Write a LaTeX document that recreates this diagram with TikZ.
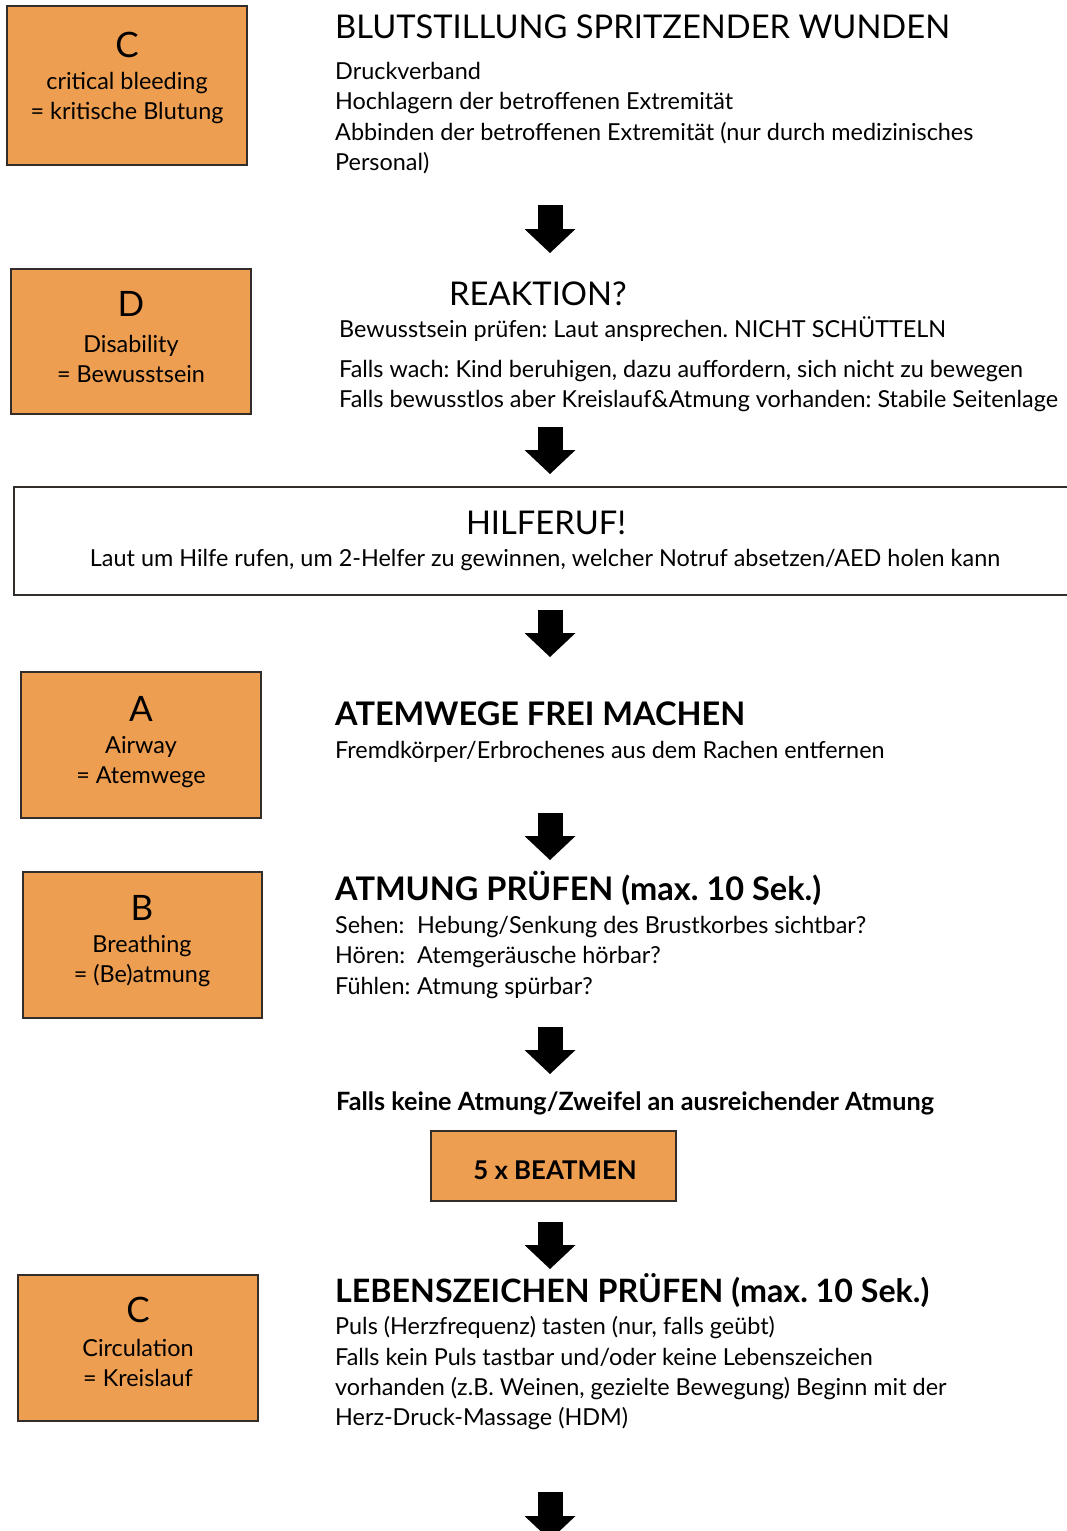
\documentclass[tikz,border=0pt]{standalone}
\usepackage{fontspec}
\setmainfont{Lato}
\usetikzlibrary{arrows.meta}
\definecolor{boxor}{RGB}{238,158,80}
\definecolor{boxline}{RGB}{50,45,40}
\tikzset{
  obox/.style={draw=boxline, line width=1.3pt, fill=boxor, inner sep=0pt},
  wbox/.style={draw=boxline, line width=1.3pt, fill=white, inner sep=0pt},
  letter/.style={anchor=base, inner sep=0pt, font=\fontsize{35}{40}\selectfont},
  boxtxt/.style={anchor=base, inner sep=0pt, font=\fontsize{23.4}{28}\selectfont},
  body/.style={anchor=base west, inner sep=0pt, font=\fontsize{23.4}{28}\selectfont},
  bodyb/.style={anchor=base west, inner sep=0pt, font=\fontsize{25.2}{30}\selectfont\bfseries},
  bodyc/.style={anchor=base, inner sep=0pt, font=\fontsize{23.4}{28}\selectfont},
  head/.style={anchor=base west, inner sep=0pt, font=\fontsize{32.7}{38}\selectfont},
  headb/.style={anchor=base west, inner sep=0pt, font=\fontsize{32.5}{38}\selectfont\bfseries},
  bigarrow/.style={line width=25pt, -{Triangle[length=24pt,width=51pt,line width=0pt]}}
}
\begin{document}
\frenchspacing
\begin{tikzpicture}[x=1pt,y=-1pt]
\useasboundingbox (0,0) rectangle (1067,1531);
\fill[white] (0,0) rectangle (1067,1531);

% ---- boxes left ----
\node[obox, minimum width=240pt, minimum height=159pt] (c1) at (127,85.5) {};
\node[letter] (c1l) at (127,57) {C};
\node[boxtxt] (c1a) at (127,89) {critical bleeding};
\node[boxtxt] (c1b) at (127,119) {= kritische Blutung};

\node[obox, minimum width=240pt, minimum height=145pt] (d) at (131,341.5) {};
\node[letter] (dl) at (131,316) {D};
\node[boxtxt] (da) at (131,352) {Disability};
\node[boxtxt] (db) at (131,382) {= Bewusstsein};

\node[obox, minimum width=240pt, minimum height=146pt] (a) at (141,745) {};
\node[letter] (al) at (141,721) {A};
\node[boxtxt] (aa) at (141,753) {Airway};
\node[boxtxt] (ab) at (141,783) {= Atemwege};

\node[obox, minimum width=239pt, minimum height=146pt] (b) at (142.5,945) {};
\node[letter] (bl) at (142,920) {B};
\node[boxtxt] (ba) at (142,952) {Breathing};
\node[boxtxt] (bb) at (142,982) {= (Be)atmung};

\node[obox, minimum width=240pt, minimum height=146pt] (c2) at (138,1348) {};
\node[letter] (c2l) at (138,1322) {C};
\node[boxtxt] (c2a) at (138,1356) {Circulation};
\node[boxtxt] (c2b) at (138,1386) {= Kreislauf};

% ---- section 1 ----
\node[head] (h1) at (335,38) {BLUTSTILLUNG SPRITZENDER WUNDEN};
\node[body] (t1a) at (335,79) {Druckverband};
\node[body] (t1b) at (335,109) {Hochlagern der betroffenen Extremität};
\node[body] (t1c) at (335,140) {Abbinden der betroffenen Extremität (nur durch medizinisches};
\node[body] (t1d) at (335,170) {Personal)};

% ---- section 2 ----
\node[head] (h2) at (449,305) {REAKTION?};
\node[body] (t2a) at (339,337) {Bewusstsein prüfen: Laut ansprechen. NICHT SCHÜTTELN};
\node[body] (t2b) at (339,377) {Falls wach: Kind beruhigen, dazu auffordern, sich nicht zu bewegen};
\node[body] (t2c) at (339,407) {Falls bewusstlos aber Kreislauf\&Atmung vorhanden: Stabile Seitenlage};

% ---- Hilferuf ----
\node[wbox, minimum width=1066pt, minimum height=108pt] (hilf) at (547,541) {};
\node[anchor=base, inner sep=0pt, font=\fontsize{32.7}{38}\selectfont] (h3) at (546,534) {HILFERUF!};
\node[bodyc] (t3) at (545,566) {Laut um Hilfe rufen, um 2-Helfer zu gewinnen, welcher Notruf absetzen/AED holen kann};

% ---- Atemwege ----
\node[headb] (h4) at (335,725) {ATEMWEGE FREI MACHEN};
\node[body] (t4) at (335,758) {Fremdkörper/Erbrochenes aus dem Rachen entfernen};

% ---- Atmung ----
\node[headb] (h5) at (335,900) {ATMUNG PRÜFEN (max. 10 Sek.)};
\node[body] (t5a) at (335,933) {\makebox[82pt][l]{Sehen:}Hebung/Senkung des Brustkorbes sichtbar?};
\node[body] (t5b) at (335,963) {\makebox[82pt][l]{Hören:}Atemgeräusche hörbar?};
\node[body] (t5c) at (335,994) {\makebox[82pt][l]{Fühlen:}Atmung spürbar?};

\node[bodyb] (t6) at (336,1110) {Falls keine Atmung/Zweifel an ausreichender Atmung};
\node[obox, minimum width=245pt, minimum height=70pt] (beat) at (553.5,1166) {};
\node[anchor=base, inner sep=0pt, font=\fontsize{25.8}{30}\selectfont\bfseries] (beatt) at (555,1179) {5 x BEATMEN};

% ---- Lebenszeichen ----
\node[headb, font=\fontsize{32.2}{38}\selectfont\bfseries] (h7) at (335,1302) {LEBENSZEICHEN PRÜFEN (max. 10 Sek.)};
\node[body] (t7a) at (335,1334) {Puls (Herzfrequenz) tasten (nur, falls geübt)};
\node[body] (t7b) at (335,1365) {Falls kein Puls tastbar und/oder keine Lebenszeichen};
\node[body] (t7c) at (335,1395) {vorhanden (z.B. Weinen, gezielte Bewegung) Beginn mit der};
\node[body] (t7d) at (335,1425) {Herz-Druck-Massage (HDM)};

% ---- arrows ----
\coordinate (a1s) at (550,205);  \coordinate (a1e) at (550,253);
\coordinate (a2s) at (550,427);  \coordinate (a2e) at (550,474);
\coordinate (a3s) at (550,610);  \coordinate (a3e) at (550,657);
\coordinate (a4s) at (550,813);  \coordinate (a4e) at (550,860);
\coordinate (a5s) at (550,1027); \coordinate (a5e) at (550,1074);
\coordinate (a6s) at (550,1222); \coordinate (a6e) at (550,1269);
\coordinate (a7s) at (550,1492); \coordinate (a7e) at (550,1540);
\foreach \i in {1,...,7} \draw[bigarrow] (a\i s) -- (a\i e);
\end{tikzpicture}
\end{document}
